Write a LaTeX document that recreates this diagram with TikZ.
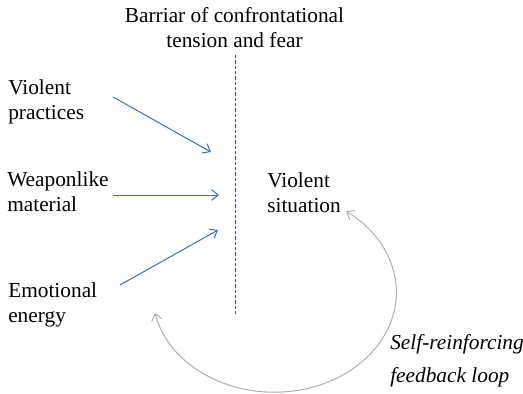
\documentclass[tikz,border=0pt]{standalone}
\usepackage{fontspec}
\setmainfont{Liberation Serif}
\usepackage{tikz}
\usetikzlibrary{arrows.meta}
\definecolor{arrowblue}{RGB}{52,112,190}
\definecolor{barblue}{RGB}{45,80,135}
\definecolor{loopgray}{RGB}{175,175,175}
\tikzset{
  text node/.style={inner sep=0pt,align=left,font=\fontsize{16}{18.75}\selectfont},
  loop node/.style={inner sep=0pt,align=left,font=\fontsize{16}{24.75}\selectfont\itshape},
  cause/.style={->,draw=arrowblue,line width=0.75pt},
  barrier/.style={draw=barblue,line width=0.75pt,dash pattern=on 2.4pt off 1.6pt}
}

\begin{document}
\begin{tikzpicture}[x=0.75pt,y=0.75pt,>={Straight Barb[length=5pt,width=8pt]}]
  \useasboundingbox (0,0) rectangle (523,393);
			  \node [text node,align=center,anchor=north] (barriar) at (234.5,386) {Barriar of confrontational\\tension and fear};
			  \node [text node,anchor=north west] (practices) at (8,314) {Violent\\practices};
			  \node [text node,anchor=north west] (material) at (7,222) {Weaponlike\\material};
			  \node [text node,anchor=north west] (energy) at (8,111) {Emotional\\energy};
			  \node [text node,anchor=north west] (situation) at (267,221) {Violent\\situation};
			  \node [loop node,anchor=north west] (feedback) at (390,59) {Self-reinforcing\\feedback loop};
			  \coordinate (bartop) at (235,338);
			  \coordinate (barbot) at (235,78);
			  \coordinate (p1) at (113,296); \coordinate (q1) at (211,241);
			  \coordinate (p2) at (113,198); \coordinate (q2) at (219,198);
			  \coordinate (p3) at (120,108); \coordinate (q3) at (218,163);
			  \coordinate (loopstart) at (155,80);
			  \draw [barrier] (bartop) -- (barbot);
			  \draw [cause] (p1) -- (q1);
			  \draw [cause] (p2) -- (q2);
			  \draw [cause] (p3) -- (q3);
			  \draw [<->,draw=loopgray,line width=0.75pt] (loopstart) arc[start angle=192,end angle=414,x radius=122,y radius=100];
			\end{tikzpicture}
\end{document}
